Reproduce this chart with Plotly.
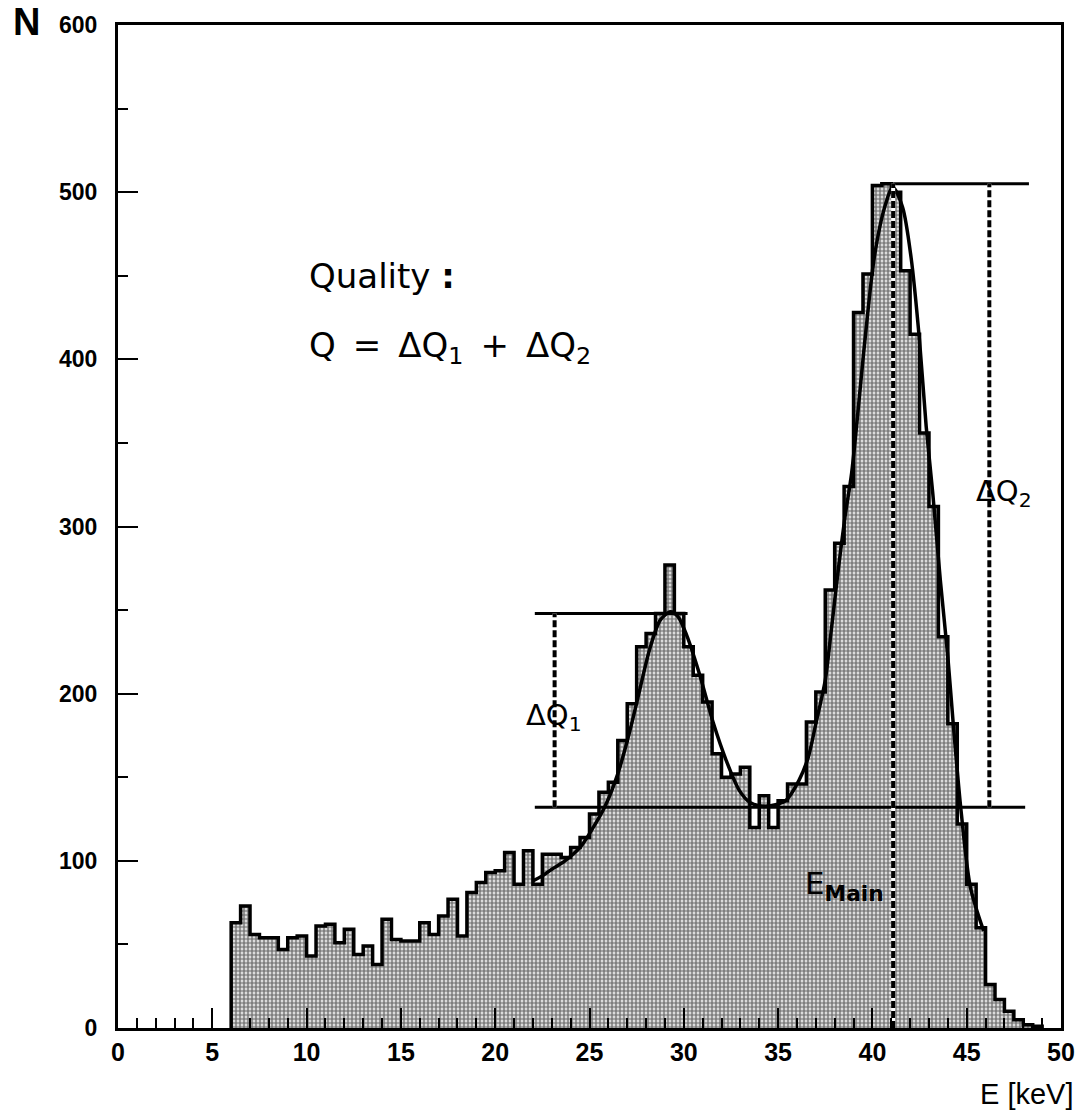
import plotly.graph_objects as go

# Energy spectrum: 0.5 keV bins starting at 6.0 keV
bin_start = 6.0
bin_width = 0.5
counts = [
    63, 73, 56, 54, 54, 47, 54, 55, 43, 61,      # 6.0 - 10.5
    62, 51, 59, 44, 49, 38, 65, 53, 52, 52,      # 11.0 - 15.5
    63, 56, 67, 77, 55, 81, 87, 93, 94, 105,     # 16.0 - 20.5
    86, 106, 86, 104, 104, 102, 108, 114, 128, 141,  # 21.0 - 25.5
    147, 172, 194, 228, 236, 248, 277, 248, 228, 211,  # 26.0 - 30.5
    195, 164, 150, 152, 156, 120, 139, 120, 136, 146,  # 31.0 - 35.5
    146, 183, 201, 262, 290, 324, 428, 451, 504, 505,  # 36.0 - 40.5
    500, 453, 415, 356, 312, 234, 182, 122, 86, 60,    # 41.0 - 45.5
    26, 17, 10, 5, 2, 1,                               # 46.0 - 48.5
]

# Fitted curve (two peaks on background), sampled points
fit_e = [22.0, 22.5, 23.0, 23.7, 24.5, 25.2, 25.8, 26.5, 27.1, 27.7, 28.2, 28.75,
         29.3, 29.7, 30.15, 30.85, 31.55, 32.25, 32.95, 33.5, 34.0, 34.6, 35.4,
         36.1, 36.6, 37.0, 37.5, 37.8, 38.2, 38.55, 38.9, 39.6, 40.1, 40.65, 41.08,
         41.6, 42.05, 42.5, 42.85, 43.2, 43.6, 44.0, 44.3, 44.7, 45.2, 45.9]
fit_n = [88, 91, 95, 100, 108, 120, 132, 152, 176, 204, 227, 244,
         249, 246, 235, 211, 183, 160, 142, 135, 133, 133, 136,
         148, 162, 182, 208, 236, 275, 306, 332, 411, 461, 491, 503,
         491, 461, 411, 360, 320, 268, 222, 180, 130, 84, 58]

# Quality construction
background_level = 132
peak1_level = 248
peak2_level = 505
e_main = 41.1
dq1_e = 23.15
dq2_e = 46.2
dq1_span = [22.1, 30.2]
base_span = [22.1, 48.1]
dq2_span = [41.1, 48.3]

x_ticks = [0, 5, 10, 15, 20, 25, 30, 35, 40, 45, 50]
y_ticks = [0, 100, 200, 300, 400, 500, 600]

edges = [bin_start + i * bin_width for i in range(len(counts) + 1)]
hx = [edges[0]] + edges[:-1] + [edges[-1], edges[-1]]
hy = [0] + counts + [counts[-1], 0]

fig = go.Figure()

fig.add_trace(go.Scatter(
    x=hx, y=hy, mode="lines", line=dict(shape="hv", color="black", width=3.5),
    fill="tozeroy",
    fillpattern=dict(shape=".", fgcolor="#000000", bgcolor="#ffffff", size=4, solidity=0.7),
    fillcolor="#a0a0a0", hoverinfo="skip", showlegend=False,
))

# horizontal reference levels
for span, level in [(dq1_span, peak1_level), (base_span, background_level), (dq2_span, peak2_level)]:
    fig.add_trace(go.Scatter(x=span, y=[level, level], mode="lines",
                             line=dict(color="black", width=3), showlegend=False))

# fit curve
fig.add_trace(go.Scatter(x=fit_e, y=fit_n, mode="lines",
                         line=dict(color="black", width=3.5, shape="spline", smoothing=0.8),
                         showlegend=False))

# dashed markers
for xe, y0, y1 in [(dq1_e, background_level, peak1_level),
                   (dq2_e, background_level, peak2_level),
                   (e_main, 0, peak2_level)]:
    fig.add_trace(go.Scatter(x=[xe, xe], y=[y0, y1], mode="lines",
                             line=dict(color="white", width=4), showlegend=False))
    fig.add_trace(go.Scatter(x=[xe, xe], y=[y0, y1], mode="lines",
                             line=dict(color="black", width=4, dash="7px,3px"),
                             showlegend=False))

label_font = dict(family="DejaVu Sans", color="black")
sp = "\u2002"
annotations = [
    dict(x=21.55, y=186, text="ΔQ<sub>1</sub>", xanchor="left", yanchor="middle",
         font=dict(size=29, **label_font)),
    dict(x=10.0, y=450, text="Quality <b>:</b>", xanchor="left", yanchor="middle",
         font=dict(size=34, **label_font)),
    dict(x=10.0, y=407, text=f"Q{sp}={sp}ΔQ<sub>1</sub>{sp}+{sp}ΔQ<sub>2</sub>", xanchor="left",
         yanchor="middle", font=dict(size=34, **label_font)),
    dict(x=45.4, y=320, text="ΔQ<sub>2</sub>", xanchor="left", yanchor="middle",
         font=dict(size=29, **label_font)),
    dict(x=36.3, y=85, text="E<sub><b>Main</b></sub>", xanchor="left", yanchor="middle",
         font=dict(size=31, **label_font)),
]
for a in annotations:
    a.update(xref="x", yref="y", showarrow=False)

# axis titles placed in paper coordinates (outside the plotting area)
annotations += [
    dict(xref="paper", yref="paper", x=-0.113, y=1.003, text="N", xanchor="left", yanchor="middle",
         showarrow=False,
         font=dict(family="Liberation Sans Narrow, Liberation Sans", size=38, weight="bold", color="black")),
    dict(xref="paper", yref="paper", x=1.016, y=-0.066, text="E [keV]", xanchor="right", yanchor="middle",
         showarrow=False,
         font=dict(family="Liberation Sans Narrow, Liberation Sans", size=29, color="black")),
]

x_tick_font = dict(family="Liberation Sans Narrow, Liberation Sans", size=25, weight="bold", color="black")
y_tick_font = dict(family="Liberation Sans", size=23, weight="bold", color="black")

fig.update_layout(
    width=1087, height=1117,
    margin=dict(l=118, r=15, t=20, b=89),
    paper_bgcolor="white", plot_bgcolor="white",
    annotations=annotations,
    xaxis=dict(range=[0, 50], tickmode="array", tickvals=x_ticks, ticktext=[str(v) for v in x_ticks],
               ticks="inside", ticklen=20, tickwidth=2, tickcolor="black",
               minor=dict(dtick=1, tick0=0, ticks="inside", ticklen=10, tickwidth=2, tickcolor="black"),
               showline=True, linewidth=3, linecolor="black", mirror=True,
               showgrid=False, zeroline=False, tickfont=x_tick_font, ticklabelstandoff=0),
    yaxis=dict(range=[0, 600], tickmode="array", tickvals=y_ticks, ticktext=[str(v) for v in y_ticks],
               ticks="inside", ticklen=20, tickwidth=2, tickcolor="black",
               minor=dict(dtick=50, tick0=0, ticks="inside", ticklen=10, tickwidth=2, tickcolor="black"),
               showline=True, linewidth=3, linecolor="black", mirror=True,
               showgrid=False, zeroline=False, tickfont=y_tick_font, ticklabelstandoff=13),
)

fig.write_html("out.html")
